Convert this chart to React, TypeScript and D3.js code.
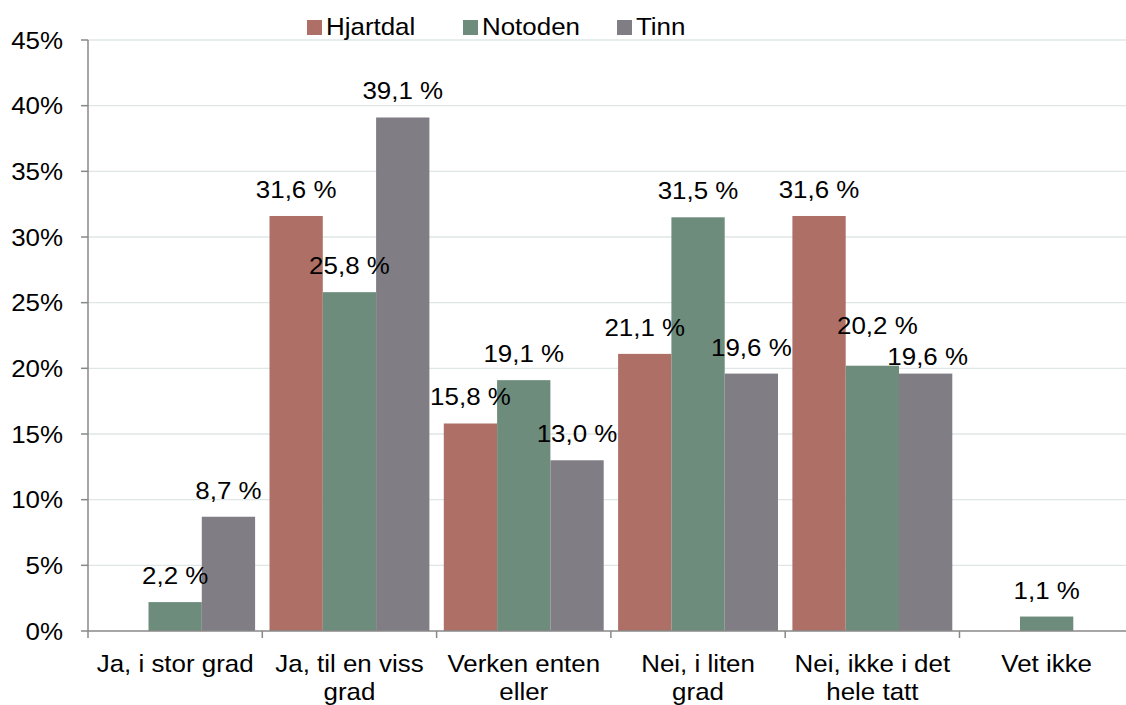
import React from "react";
import * as d3 from "d3";

const categories: string[][] = [
  ["Ja, i stor grad"],
  ["Ja, til en viss", "grad"],
  ["Verken enten", "eller"],
  ["Nei, i liten", "grad"],
  ["Nei, ikke i det", "hele tatt"],
  ["Vet ikke"],
];
const seriesNames = ["Hjartdal", "Notoden", "Tinn"];
const seriesColors = ["#AE7066", "#6E8C7C", "#807E84"];
const hjartdal: (number | null)[] = [null, 31.6, 15.8, 21.1, 31.6, null];
const notoden: (number | null)[] = [2.2, 25.8, 19.1, 31.5, 20.2, 1.1];
const tinn: (number | null)[] = [8.7, 39.1, 13.0, 19.6, 19.6, null];
const yTicks = [0, 5, 10, 15, 20, 25, 30, 35, 40, 45];

const W = 1126;
const H = 705;
const FONT = "'Liberation Sans', Arial, sans-serif";
const SX = 1.08;

// label nudges (series-category) to avoid overlaps, as in the reference
const labelNudge: Record<string, [number, number]> = {
  "1-4": [5, -14],
  "2-4": [2, 9],
};

export default function App() {
  const series = [hjartdal, notoden, tinn];
  const x0 = 88;
  const x1 = 88 + 6 * 174.3;
  const y0 = 631;
  const yTop = 40;
  const y = d3.scaleLinear().domain([0, 45]).range([y0, yTop]);
  const xCat = d3
    .scaleBand<number>()
    .domain(categories.map((_, i) => i))
    .range([x0, x1])
    .paddingInner(0)
    .paddingOuter(0);
  const bw = xCat.bandwidth();
  const pad = 7.2;
  const xSub = d3
    .scaleBand<number>()
    .domain([0, 1, 2])
    .range([pad, bw - pad]);

  const txt = (x: number, yy: number, s: string, anchor: string, key?: string) => (
    <text
      key={key}
      transform={`translate(${x},${yy}) scale(${SX},1)`}
      textAnchor={anchor as any}
      fontFamily={FONT}
      fontSize={24}
      fill="#000"
    >
      {s}
    </text>
  );

  const fmt = (v: number) => v.toFixed(1).replace(".", ",") + " %";

  return (
    <svg width={W} height={H} style={{ position: "absolute", left: 0, top: 0, background: "#fff" }}>
      {/* gridlines */}
      {yTicks.map((t) =>
        t === 0 ? null : (
          <line key={"g" + t} x1={x0} x2={W} y1={y(t)} y2={y(t)} stroke="#DFE6E6" strokeWidth={1.3} />
        )
      )}
      {/* bars */}
      {series.map((vals, si) =>
        vals.map((v, ci) =>
          v == null ? null : (
            <rect
              key={`b${si}-${ci}`}
              x={(xCat(ci) as number) + (xSub(si) as number)}
              y={y(v)}
              width={xSub.bandwidth()}
              height={y0 - y(v)}
              fill={seriesColors[si]}
            />
          )
        )
      )}
      {/* axes */}
      <line x1={x0} x2={x0} y1={yTop} y2={y0} stroke="#888" strokeWidth={1.5} />
      <line x1={x0} x2={W} y1={y0} y2={y0} stroke="#888" strokeWidth={1.5} />
      {yTicks.map((t) => (
        <line key={"yt" + t} x1={x0 - 7} x2={x0} y1={y(t)} y2={y(t)} stroke="#888" strokeWidth={1.5} />
      ))}
      {d3.range(0, 7).map((i) => (
        <line
          key={"xt" + i}
          x1={x0 + i * bw}
          x2={x0 + i * bw}
          y1={y0}
          y2={y0 + 7}
          stroke="#888"
          strokeWidth={1.5}
        />
      ))}
      {/* y tick labels */}
      {yTicks.map((t) => txt(63, y(t) + 8.5, `${t}%`, "end", "yl" + t))}
      {/* category labels */}
      {categories.map((lines, ci) =>
        lines.map((l, li) =>
          txt((xCat(ci) as number) + bw / 2, 672 + li * 28, l, "middle", `c${ci}-${li}`)
        )
      )}
      {/* data labels */}
      {series.map((vals, si) =>
        vals.map((v, ci) => {
          if (v == null) return null;
          const n = labelNudge[`${si}-${ci}`] || [0, 0];
          return txt(
            (xCat(ci) as number) + (xSub(si) as number) + xSub.bandwidth() / 2 + n[0],
            y(v) - 18 + n[1],
            fmt(v),
            "middle",
            `l${si}-${ci}`
          );
        })
      )}
      {/* legend */}
      {[307, 463, 617].map((lx, i) => (
        <g key={"lg" + i}>
          <rect x={lx} y={20} width={15} height={15} fill={seriesColors[i]} />
          {txt(lx + 19, 35, seriesNames[i], "start")}
        </g>
      ))}
    </svg>
  );
}
